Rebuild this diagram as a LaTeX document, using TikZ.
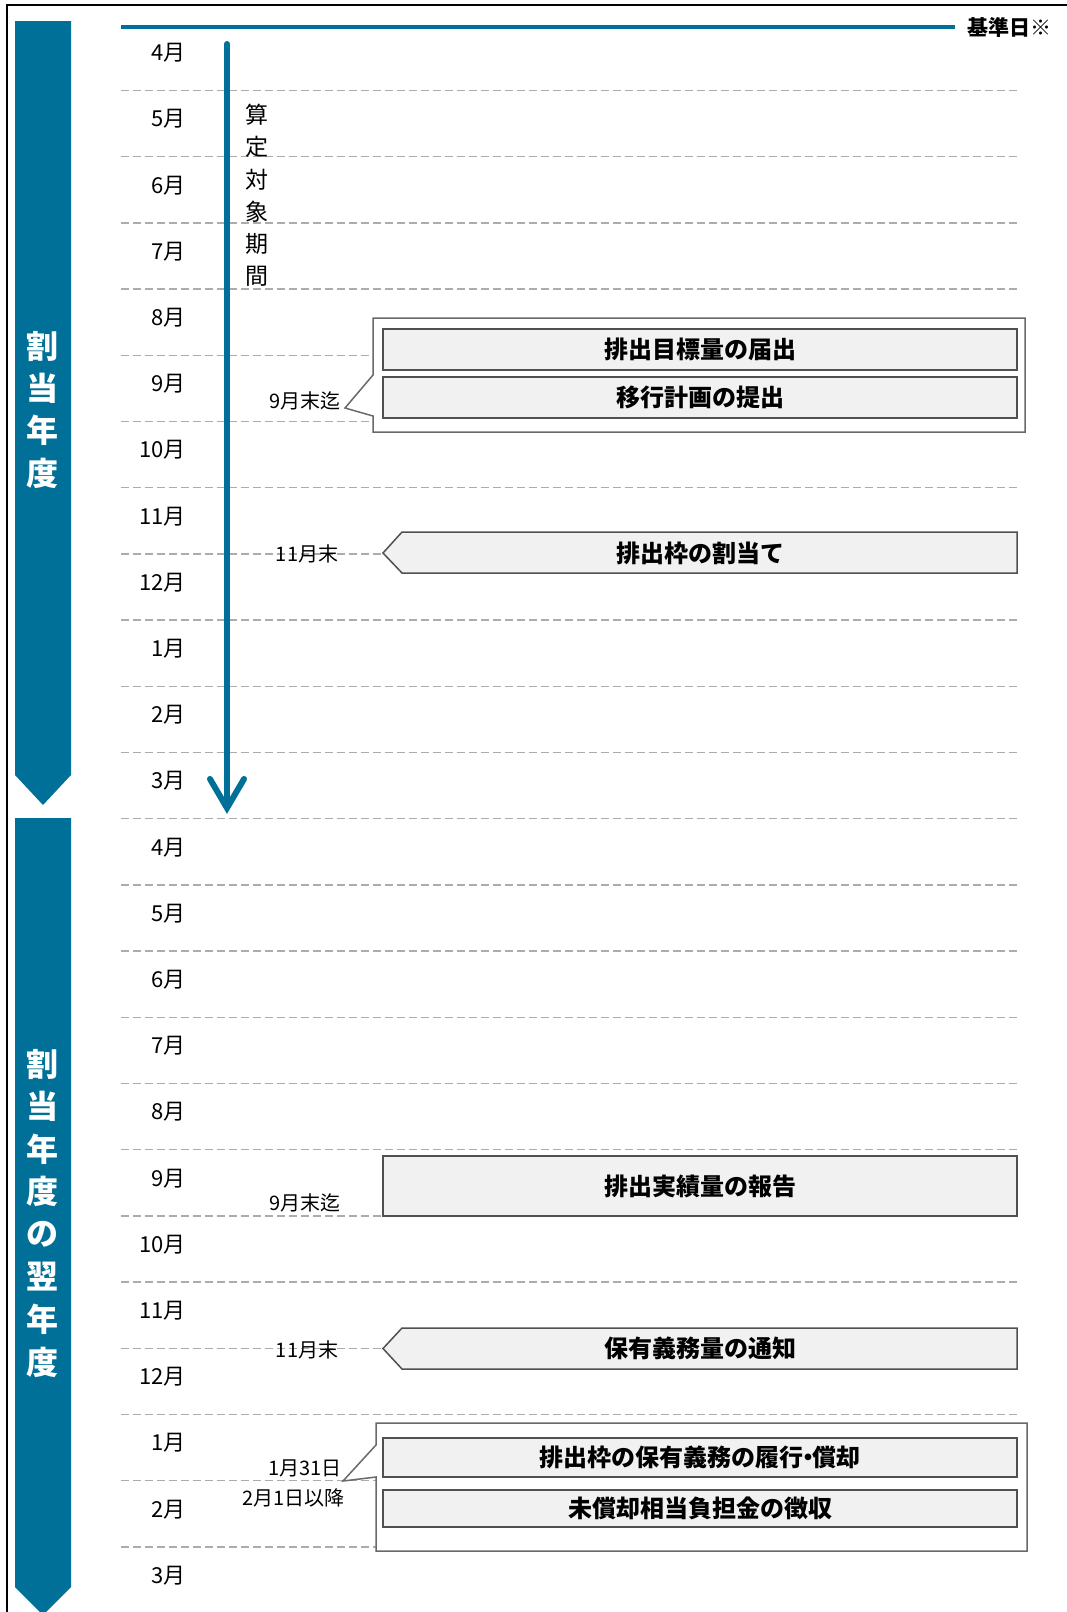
\documentclass[tikz,border=0pt]{standalone}
\usepackage{fontspec}
\setmainfont{Noto Sans CJK JP}
\definecolor{tlblue}{RGB}{0,112,152}
\definecolor{dashgray}{RGB}{172,172,172}
\definecolor{boxfill}{RGB}{241,241,241}
\definecolor{boxline}{RGB}{80,80,80}
\definecolor{outline}{RGB}{105,105,105}
\begin{document}
\begin{tikzpicture}[x=1pt,y=-1pt,
  mon/.style={anchor=east,inner sep=0pt,font=\fontsize{22}{22}\selectfont},
  dline/.style={draw=dashgray,line width=1.3pt,dash pattern=on 8pt off 4pt},
  vt/.style={inner sep=0pt,font=\fontsize{23}{23}\selectfont},
  bart/.style={inner sep=0pt,text=white,font=\bfseries\fontsize{32}{32}\selectfont},
  ibox/.style={draw=boxline,fill=boxfill,line width=1.5pt,minimum width=634pt,inner sep=0pt,font=\bfseries\fontsize{24}{24}\selectfont},
  btext/.style={inner sep=0pt,font=\bfseries\fontsize{24}{24}\selectfont},
  outbox/.style={draw=outline,fill=white,line width=1.5pt,line join=miter},
  note/.style={inner sep=0pt,font=\fontsize{20}{20}\selectfont},
  bar/.style={fill=tlblue,draw=none}
]
\useasboundingbox (0,0) rectangle (1067,1612);
% frame
\draw[black,line width=2pt] (7,1620) -- (7,5) -- (1075,5);
% left bars
\fill[bar] (15,21) -- (71,21) -- (71,775) -- (43,805) -- (15,775) -- cycle;
\fill[bar] (15,818) -- (71,818) -- (71,1587) -- (43,1615) -- (15,1587) -- cycle;
\foreach \c [count=\j from 0] in {割,当,年,度}
  \node[bart] (a\j) at (43,{346+42.3*\j}) {\c};
\foreach \c [count=\j from 0] in {割,当,年,度,の,翌,年,度}
  \node[bart] (b\j) at (43,{1064+42.6*\j}) {\c};
% dashed month lines
\foreach \k in {0,...,22}
  \draw[dline] (121,{90.5+66.2*\k}) -- (1018,{90.5+66.2*\k});
% months
\foreach \m [count=\i from 0] in {4,5,6,7,8,9,10,11,12,1,2,3,4,5,6,7,8,9,10,11,12,1,2,3}
  \node[mon] (m\i) at (186,{53+66.2*\i}) {\m 月};
% top line
\coordinate (tl0) at (121,27);
\coordinate (tl1) at (955,27);
\draw[tlblue,line width=4.5pt] (tl0) -- (tl1);
\node[anchor=west,inner sep=0pt,font=\bfseries\fontsize{21}{21}\selectfont] (kijun) at (967,27) {基準日※};
% period arrow
\coordinate (ar0) at (227,44);
\coordinate (ar1) at (227,806);
\draw[tlblue,line width=6pt,line cap=round] (ar0) -- (ar1);
\draw[tlblue,line width=6pt,line cap=round,line join=miter] (210,779) -- (227,808) -- (244,779);
\foreach \c [count=\j from 0] in {算,定,対,象,期,間}
  \node[vt] (s\j) at (257,{115+32.3*\j}) {\c};
% group 1
\draw[outbox] (1025,318) -- (373,318) -- (373,375) -- (345,408) -- (373,416) -- (373,432) -- (1025,432) -- cycle;
\node[ibox,minimum height=41pt] (g1a) at (700,349.5) {排出目標量の届出};
\node[ibox,minimum height=41pt] (g1b) at (700,397.5) {移行計画の提出};
\node[note,anchor=east] (n1) at (341,401) {9月末迄};
% allocation
\draw[draw=boxline,fill=boxfill,line width=1.5pt] (1017,532) -- (402,532) -- (383,553) -- (402,573) -- (1017,573) -- cycle;
\node[btext] (p1) at (700,553) {排出枠の割当て};
\node[note] (n2) at (307,554) {11月末};
% report
\node[ibox,minimum height=60pt] (r1) at (700,1186) {排出実績量の報告};
\node[note,anchor=east] (n3) at (341,1203) {9月末迄};
% notification
\draw[draw=boxline,fill=boxfill,line width=1.5pt] (1017,1328) -- (402,1328) -- (383,1348.5) -- (402,1369) -- (1017,1369) -- cycle;
\node[btext] (p2) at (700,1348.5) {保有義務量の通知};
\node[note] (n4) at (307,1350) {11月末};
% group 5
\draw[outbox] (1027,1423) -- (376,1423) -- (376,1445) -- (343,1481) -- (376,1477) -- (376,1551) -- (1027,1551) -- cycle;
\node[ibox,minimum height=39pt] (g5a) at (700,1457.5) {排出枠の保有義務の履行\kern-0.3em・\kern-0.3em償却};
\node[ibox,minimum height=37pt] (g5b) at (700,1508.5) {未償却相当負担金の徴収};
\node[note,anchor=east] (n5) at (342,1468) {1月31日};
\node[note,anchor=east] (n6) at (345,1498) {2月1日以降};
\end{tikzpicture}
\end{document}
